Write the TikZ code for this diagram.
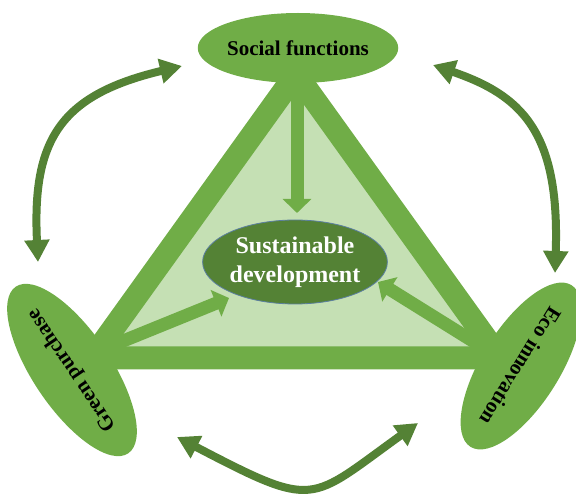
\documentclass[tikz,border=0pt]{standalone}
\usepackage{fontspec}
\setmainfont{Liberation Serif}
\usetikzlibrary{arrows.meta,shapes.geometric}
\definecolor{leaf}{HTML}{70AD47}
\definecolor{leaflight}{HTML}{C5E0B4}
\definecolor{leafdark}{HTML}{548235}
\definecolor{rim}{HTML}{5B7FA0}
\begin{document}
\begin{tikzpicture}[x=1pt,y=1pt,
  frame/.style={draw=leaf,fill=leaflight,line width=23pt,line join=miter},
  inarrow/.style={draw=leaf,line width=13pt,-{Triangle[length=14pt,width=28pt]}},
  cycle arrow/.style={draw=leafdark,line width=8pt,
    {Triangle[length=22pt,width=24pt]}-{Triangle[length=22pt,width=24pt]}},
  bubble/.style={ellipse,fill=leaf,inner sep=0pt,minimum width=190pt,
    minimum height=#1,font=\fontsize{21}{25}\selectfont\bfseries,text=black},
  core/.style={ellipse,fill=leafdark,draw=rim,line width=0.8pt,inner sep=0pt,
    minimum width=170pt,minimum height=84pt,align=center,
    font=\fontsize{24}{29}\selectfont\bfseries,text=white}]
\useasboundingbox (0,0) rectangle (576,493);

% triangle corners
\coordinate (vt) at (296,419);
\coordinate (vl) at (92,135);
\coordinate (vr) at (500,135);
\path[frame] (vt) -- (vl) -- (vr) -- cycle;

% arrow tails and tips towards the centre
\coordinate (at) at (297,405);
\coordinate (al) at (96,141);
\coordinate (ar) at (492,140);
\coordinate (tt) at (297,280);
\coordinate (tl) at (229,195);
\coordinate (tr) at (378,211);
\draw[inarrow] (at) -- (tt);
\draw[inarrow] (al) -- (tl);
\draw[inarrow] (ar) -- (tr);

\node[core] (sd) at (295,231) {Sustainable\\development};

\node[bubble=70pt] (sf) at (298,445) {Social functions};
\node[bubble=78pt,rotate=124] (gp) at (72,123) {Green purchase};
\node[bubble=78pt,rotate=-122] (ei) at (521,127) {Eco innovation};

% two-way arrows between the outer ellipses
\coordinate (l1) at (38,231);
\coordinate (l2) at (182,427);
\coordinate (r1) at (433,428);
\coordinate (r2) at (555,220);
\coordinate (b1) at (177,56);
\coordinate (b2) at (418,70);
\draw[cycle arrow] (l1) .. controls (32,353) and (60,398) .. (l2);
\draw[cycle arrow] (r1) .. controls (520,398) and (560,363) .. (r2);
\draw[cycle arrow] (b1) .. controls (317,-17) and (308,-9) .. (b2);
\end{tikzpicture}
\end{document}
